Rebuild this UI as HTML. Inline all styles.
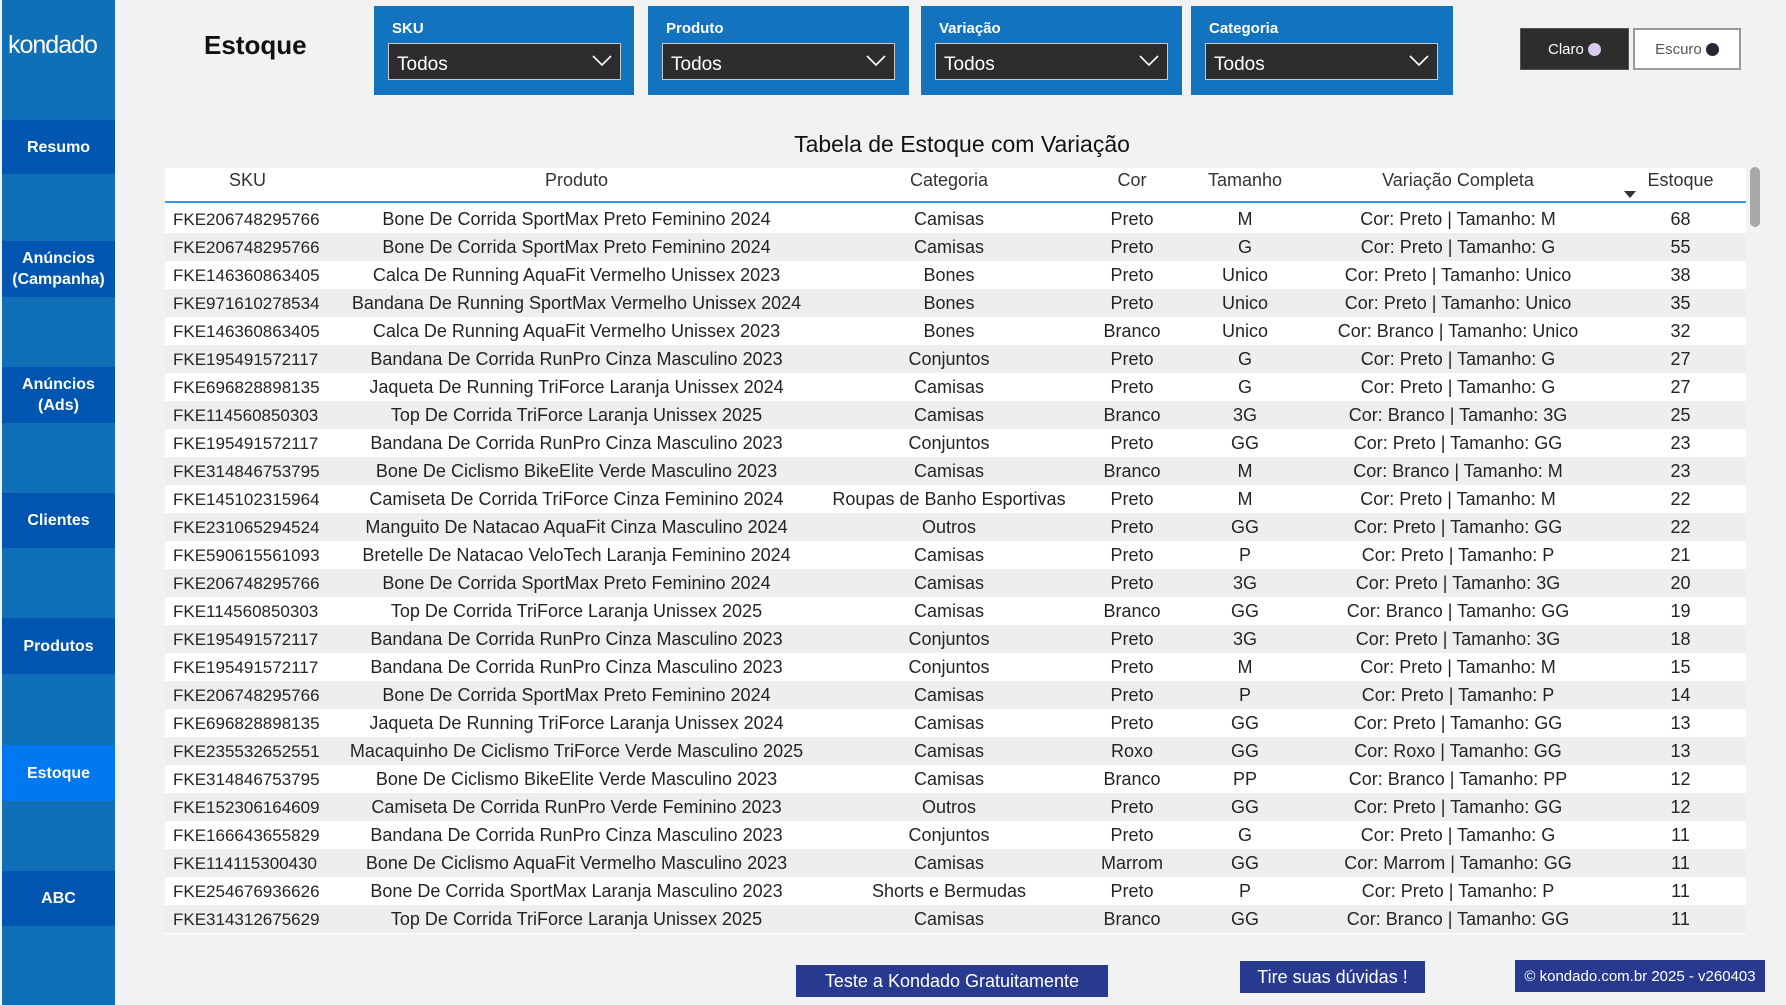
<!DOCTYPE html>
<html><head><meta charset="utf-8"><style>
*{margin:0;padding:0;box-sizing:border-box}
body{width:1786px;height:1005px;background:#f2f2f2;font-family:"Liberation Sans",sans-serif;position:relative;overflow:hidden;color:#252423}
.a{position:absolute}
.side{left:2px;top:0;width:113px;height:1005px;background:#0f70b7}
.nb{position:absolute;left:2px;width:113px;background:#0055b0;color:#fff;font-weight:bold;font-size:16px;display:flex;align-items:center;justify-content:center;text-align:center;line-height:21px}
.f{background:#1473be;color:#fff}
.f b{position:absolute;left:18px;top:14px;font-size:15px}
.dd{position:absolute;left:14px;top:37px;width:233px;height:37px;background:#2d2d2d;border:1px solid #c8c8c8;color:#fff;font-size:19px;padding:10px 0 0 8px}
.dd svg{position:absolute;right:8px;top:10px}
.row{position:absolute;left:165px;width:1581px;height:28px;font-size:18px;color:#252423}
.row span,.hd span{position:absolute;top:4px;text-align:center;white-space:nowrap}
.row .c1{font-size:17px;top:5px}
.hd{position:absolute;left:165px;top:168px;width:1581px;height:35px;background:#fff;border-bottom:2px solid #3a96dd;font-size:18px;color:#333}
.hd span{top:2px}
.c1{left:8px}.c2{left:165px;width:493px}.c3{left:658px;width:252px}.c4{left:910px;width:114px}.c5{left:1024px;width:112px}.c6{left:1136px;width:314px}.c7{left:1450px;width:131px}
.btn{position:absolute;background:#283a8f;color:#fff;display:flex;align-items:center;justify-content:center}
</style></head><body>
<div class="a side"></div>
<div class="a" style="left:8px;top:31px;color:#fff;font-size:25px;letter-spacing:-1px">kondado</div>
<div class="nb" style="top:120px;height:54px">Resumo</div>
<div class="nb" style="top:241px;height:56px">Anúncios<br>(Campanha)</div>
<div class="nb" style="top:367px;height:56px">Anúncios<br>(Ads)</div>
<div class="nb" style="top:493px;height:55px">Clientes</div>
<div class="nb" style="top:618px;height:56px">Produtos</div>
<div class="nb" style="top:745px;height:56px;background:#0078f0">Estoque</div>
<div class="nb" style="top:871px;height:55px">ABC</div>
<div class="a" style="left:204px;top:30px;font-size:26px;font-weight:bold;color:#111">Estoque</div>

<div class="a f" style="left:374px;top:6px;width:260px;height:89px"><b>SKU</b><div class="dd">Todos<svg width="20" height="14"><path d="M1 2l9 9 9-9" stroke="#fff" stroke-width="1.6" fill="none"/></svg></div></div>
<div class="a f" style="left:648px;top:6px;width:261px;height:89px"><b>Produto</b><div class="dd">Todos<svg width="20" height="14"><path d="M1 2l9 9 9-9" stroke="#fff" stroke-width="1.6" fill="none"/></svg></div></div>
<div class="a f" style="left:921px;top:6px;width:261px;height:89px"><b>Variação</b><div class="dd">Todos<svg width="20" height="14"><path d="M1 2l9 9 9-9" stroke="#fff" stroke-width="1.6" fill="none"/></svg></div></div>
<div class="a f" style="left:1191px;top:6px;width:262px;height:89px"><b>Categoria</b><div class="dd">Todos<svg width="20" height="14"><path d="M1 2l9 9 9-9" stroke="#fff" stroke-width="1.6" fill="none"/></svg></div></div>

<div class="a" style="left:1520px;top:28px;width:109px;height:42px;background:#2d2d2d;border:1px solid #555;color:#fff;font-size:15px;display:flex;align-items:center;justify-content:center">Claro&nbsp;<span style="display:inline-block;width:13px;height:13px;border-radius:50%;background:#d9c8ef"></span></div>
<div class="a" style="left:1633px;top:28px;width:108px;height:42px;background:#fff;border:2px solid #999;color:#555;font-size:15px;display:flex;align-items:center;justify-content:center">Escuro&nbsp;<span style="display:inline-block;width:13px;height:13px;border-radius:50%;background:#2a2638"></span></div>

<div class="a" style="left:700px;top:131px;width:524px;text-align:center;font-size:23px;color:#111">Tabela de Estoque com Variação</div>
<div class="a" style="left:165px;top:168px;width:1581px;height:766px;background:#fff"></div>
<div class="hd"><span class="c1" style="left:0;width:165px">SKU</span><span class="c2">Produto</span><span class="c3">Categoria</span><span class="c4">Cor</span><span class="c5">Tamanho</span><span class="c6">Variação Completa</span><span class="c7">Estoque</span>
<svg class="a" style="left:1459px;top:23px" width="12" height="7"><path d="M0 0h12L6 7z" fill="#333"/></svg></div>
<div class="a" style="left:1750px;top:167px;width:10px;height:60px;background:#a8a8a8;border-radius:5px"></div>
<div id="rows"></div>
<script>
var d=[["FKE206748295766","Bone De Corrida SportMax Preto Feminino 2024","Camisas","Preto","M","68"],
["FKE206748295766","Bone De Corrida SportMax Preto Feminino 2024","Camisas","Preto","G","55"],
["FKE146360863405","Calca De Running AquaFit Vermelho Unissex 2023","Bones","Preto","Unico","38"],
["FKE971610278534","Bandana De Running SportMax Vermelho Unissex 2024","Bones","Preto","Unico","35"],
["FKE146360863405","Calca De Running AquaFit Vermelho Unissex 2023","Bones","Branco","Unico","32"],
["FKE195491572117","Bandana De Corrida RunPro Cinza Masculino 2023","Conjuntos","Preto","G","27"],
["FKE696828898135","Jaqueta De Running TriForce Laranja Unissex 2024","Camisas","Preto","G","27"],
["FKE114560850303","Top De Corrida TriForce Laranja Unissex 2025","Camisas","Branco","3G","25"],
["FKE195491572117","Bandana De Corrida RunPro Cinza Masculino 2023","Conjuntos","Preto","GG","23"],
["FKE314846753795","Bone De Ciclismo BikeElite Verde Masculino 2023","Camisas","Branco","M","23"],
["FKE145102315964","Camiseta De Corrida TriForce Cinza Feminino 2024","Roupas de Banho Esportivas","Preto","M","22"],
["FKE231065294524","Manguito De Natacao AquaFit Cinza Masculino 2024","Outros","Preto","GG","22"],
["FKE590615561093","Bretelle De Natacao VeloTech Laranja Feminino 2024","Camisas","Preto","P","21"],
["FKE206748295766","Bone De Corrida SportMax Preto Feminino 2024","Camisas","Preto","3G","20"],
["FKE114560850303","Top De Corrida TriForce Laranja Unissex 2025","Camisas","Branco","GG","19"],
["FKE195491572117","Bandana De Corrida RunPro Cinza Masculino 2023","Conjuntos","Preto","3G","18"],
["FKE195491572117","Bandana De Corrida RunPro Cinza Masculino 2023","Conjuntos","Preto","M","15"],
["FKE206748295766","Bone De Corrida SportMax Preto Feminino 2024","Camisas","Preto","P","14"],
["FKE696828898135","Jaqueta De Running TriForce Laranja Unissex 2024","Camisas","Preto","GG","13"],
["FKE235532652551","Macaquinho De Ciclismo TriForce Verde Masculino 2025","Camisas","Roxo","GG","13"],
["FKE314846753795","Bone De Ciclismo BikeElite Verde Masculino 2023","Camisas","Branco","PP","12"],
["FKE152306164609","Camiseta De Corrida RunPro Verde Feminino 2023","Outros","Preto","GG","12"],
["FKE166643655829","Bandana De Corrida RunPro Cinza Masculino 2023","Conjuntos","Preto","G","11"],
["FKE114115300430","Bone De Ciclismo AquaFit Vermelho Masculino 2023","Camisas","Marrom","GG","11"],
["FKE254676936626","Bone De Corrida SportMax Laranja Masculino 2023","Shorts e Bermudas","Preto","P","11"],
["FKE314312675629","Top De Corrida TriForce Laranja Unissex 2025","Camisas","Branco","GG","11"]];
var h="";d.forEach(function(r,i){h+='<div class="row" style="top:'+(205+i*28)+'px;background:'+(i%2?'#eeeeee':'#fff')+'"><span class="c1">'+r[0]+'</span><span class="c2">'+r[1]+'</span><span class="c3">'+r[2]+'</span><span class="c4">'+r[3]+'</span><span class="c5">'+r[4]+'</span><span class="c6">Cor: '+r[3]+' | Tamanho: '+r[4]+'</span><span class="c7">'+r[5]+'</span></div>';});
document.getElementById("rows").innerHTML=h;
</script>
<div class="btn" style="left:796px;top:965px;width:312px;height:32px;font-size:18px">Teste a Kondado Gratuitamente</div>
<div class="btn" style="left:1240px;top:961px;width:185px;height:32px;font-size:18px">Tire suas dúvidas !</div>
<div class="btn" style="left:1515px;top:960px;width:250px;height:32px;font-size:15px">© kondado.com.br 2025 - v260403</div>
</body></html>
